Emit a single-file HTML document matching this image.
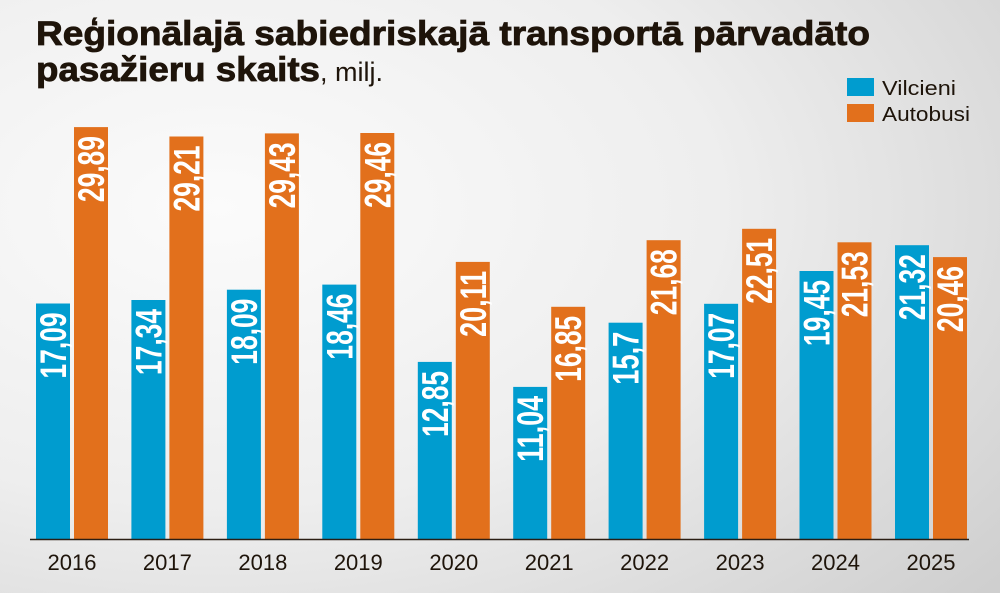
<!DOCTYPE html>
<html><head><meta charset="utf-8"><style>
html,body{margin:0;padding:0;width:1000px;height:593px;overflow:hidden}
</style></head><body>
<svg width="1000" height="593" viewBox="0 0 1000 593" xmlns="http://www.w3.org/2000/svg">
<defs>
<radialGradient id="bg" cx="0.22" cy="0.35" r="1.0">
<stop offset="0" stop-color="#fbfbfb"/><stop offset="0.5" stop-color="#eeeeee"/><stop offset="1" stop-color="#cfcfcf"/>
</radialGradient>
</defs>
<rect width="1000" height="593" fill="url(#bg)"/>
<g font-family="Liberation Sans, DejaVu Sans, sans-serif" fill="#1e140a">
<text x="36" y="45" font-size="34" font-weight="bold" stroke="#1e140a" stroke-width="0.8" textLength="834" lengthAdjust="spacingAndGlyphs">Reģionālajā sabiedriskajā transportā pārvadāto</text>
<text x="36" y="81" font-size="34" font-weight="bold" stroke="#1e140a" stroke-width="0.8" textLength="284" lengthAdjust="spacingAndGlyphs">pasažieru skaits</text>
<text x="320" y="81" font-size="27">, milj.</text>
<rect x="847" y="78" width="27" height="18" fill="#009ccf"/>
<rect x="847" y="104" width="27" height="18" fill="#e2701c"/>
<text x="882" y="95" font-size="20" textLength="74" lengthAdjust="spacingAndGlyphs">Vilcieni</text>
<text x="882" y="121" font-size="20" textLength="88" lengthAdjust="spacingAndGlyphs">Autobusi</text>
</g>
<g font-family="Liberation Sans, DejaVu Sans, sans-serif" font-weight="bold" font-size="37" fill="#fff">
<rect x="36" y="303.5" width="34" height="235.5" fill="#009ccf"/><rect x="74" y="127.1" width="34" height="411.9" fill="#e2701c"/>
<rect x="131.4" y="300" width="34" height="239" fill="#009ccf"/><rect x="169.4" y="136.5" width="34" height="402.5" fill="#e2701c"/>
<rect x="226.9" y="289.7" width="34" height="249.3" fill="#009ccf"/><rect x="264.9" y="133.4" width="34" height="405.6" fill="#e2701c"/>
<rect x="322.3" y="284.6" width="34" height="254.4" fill="#009ccf"/><rect x="360.3" y="133" width="34" height="406" fill="#e2701c"/>
<rect x="417.8" y="361.9" width="34" height="177.1" fill="#009ccf"/><rect x="455.8" y="261.9" width="34" height="277.1" fill="#e2701c"/>
<rect x="513.2" y="386.9" width="34" height="152.1" fill="#009ccf"/><rect x="551.2" y="306.8" width="34" height="232.2" fill="#e2701c"/>
<rect x="608.6" y="322.7" width="34" height="216.3" fill="#009ccf"/><rect x="646.6" y="240.2" width="34" height="298.8" fill="#e2701c"/>
<rect x="704.1" y="303.8" width="34" height="235.2" fill="#009ccf"/><rect x="742.1" y="228.8" width="34" height="310.2" fill="#e2701c"/>
<rect x="799.5" y="271" width="34" height="268" fill="#009ccf"/><rect x="837.5" y="242.3" width="34" height="296.7" fill="#e2701c"/>
<rect x="895" y="245.2" width="34" height="293.8" fill="#009ccf"/><rect x="933" y="257.1" width="34" height="281.9" fill="#e2701c"/>
<text transform="translate(66,312.5) rotate(-90)" text-anchor="end" textLength="66" lengthAdjust="spacingAndGlyphs">17,09</text>
<text transform="translate(104,136.1) rotate(-90)" text-anchor="end" textLength="66" lengthAdjust="spacingAndGlyphs">29,89</text>
<text transform="translate(161.4,309) rotate(-90)" text-anchor="end" textLength="66" lengthAdjust="spacingAndGlyphs">17,34</text>
<text transform="translate(199.4,145.5) rotate(-90)" text-anchor="end" textLength="66" lengthAdjust="spacingAndGlyphs">29,21</text>
<text transform="translate(256.9,298.7) rotate(-90)" text-anchor="end" textLength="66" lengthAdjust="spacingAndGlyphs">18,09</text>
<text transform="translate(294.9,142.4) rotate(-90)" text-anchor="end" textLength="66" lengthAdjust="spacingAndGlyphs">29,43</text>
<text transform="translate(352.3,293.6) rotate(-90)" text-anchor="end" textLength="66" lengthAdjust="spacingAndGlyphs">18,46</text>
<text transform="translate(390.3,142) rotate(-90)" text-anchor="end" textLength="66" lengthAdjust="spacingAndGlyphs">29,46</text>
<text transform="translate(447.8,370.9) rotate(-90)" text-anchor="end" textLength="66" lengthAdjust="spacingAndGlyphs">12,85</text>
<text transform="translate(485.8,270.9) rotate(-90)" text-anchor="end" textLength="66" lengthAdjust="spacingAndGlyphs">20,11</text>
<text transform="translate(543.2,395.9) rotate(-90)" text-anchor="end" textLength="66" lengthAdjust="spacingAndGlyphs">11,04</text>
<text transform="translate(581.2,315.8) rotate(-90)" text-anchor="end" textLength="66" lengthAdjust="spacingAndGlyphs">16,85</text>
<text transform="translate(638.6,331.7) rotate(-90)" text-anchor="end" textLength="53" lengthAdjust="spacingAndGlyphs">15,7</text>
<text transform="translate(676.6,249.2) rotate(-90)" text-anchor="end" textLength="66" lengthAdjust="spacingAndGlyphs">21,68</text>
<text transform="translate(734.1,312.8) rotate(-90)" text-anchor="end" textLength="66" lengthAdjust="spacingAndGlyphs">17,07</text>
<text transform="translate(772.1,237.8) rotate(-90)" text-anchor="end" textLength="66" lengthAdjust="spacingAndGlyphs">22,51</text>
<text transform="translate(829.5,280) rotate(-90)" text-anchor="end" textLength="66" lengthAdjust="spacingAndGlyphs">19,45</text>
<text transform="translate(867.5,251.3) rotate(-90)" text-anchor="end" textLength="66" lengthAdjust="spacingAndGlyphs">21,53</text>
<text transform="translate(925,254.2) rotate(-90)" text-anchor="end" textLength="66" lengthAdjust="spacingAndGlyphs">21,32</text>
<text transform="translate(963,266.1) rotate(-90)" text-anchor="end" textLength="66" lengthAdjust="spacingAndGlyphs">20,46</text>
</g>
<line x1="30" y1="539.5" x2="969" y2="539.5" stroke="#2a1e14" stroke-width="1.5"/>
<g font-family="Liberation Sans, DejaVu Sans, sans-serif" font-size="22" fill="#1e140a" text-anchor="middle">
<text x="72" y="570">2016</text><text x="167.4" y="570">2017</text><text x="262.9" y="570">2018</text>
<text x="358.3" y="570">2019</text><text x="453.8" y="570">2020</text><text x="549.2" y="570">2021</text>
<text x="644.6" y="570">2022</text><text x="740.1" y="570">2023</text><text x="835.5" y="570">2024</text>
<text x="931" y="570">2025</text>
</g>
</svg>
</body></html>
